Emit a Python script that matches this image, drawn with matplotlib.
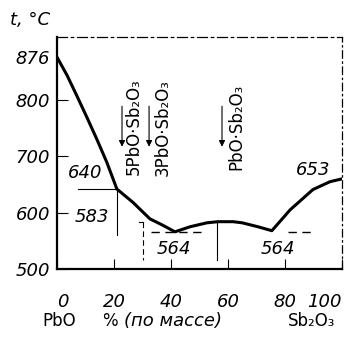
import matplotlib.pyplot as plt

# liquidus of the PbO - Sb2O3 system
liq_x = [0, 3.5, 7, 10.5, 14, 17.5, 21, 26.7, 32.6, 37, 41.4,
         46.7, 52.6, 56.5, 61.8, 65, 70.5, 75.4, 81.8, 89.8, 95.8, 100]
liq_t = [876, 844, 807, 769, 730, 689, 642, 618, 589, 578, 566,
         575, 582, 584, 584, 582, 575, 568, 605, 641, 655, 660]

y_ticks = [500, 600, 700, 800, 876]
x_ticks = [0, 20, 40, 60, 80, 100]

compounds = ['5PbO·Sb₂O₃', '3PbO·Sb₂O₃', 'PbO·Sb₂O₃']
comp_x = [22.8, 32.3, 57.9]
comp_lab_x = [26.9, 37.2, 63.0]

t_labels = ['640', '583', '564', '564', '653']
t_lab_x = [9.8, 12.2, 41, 77.5, 90]
t_lab_t = [671, 593, 536, 536, 675]

fnt = 'DejaVu Sans'

fig = plt.figure(figsize=(3.5, 3.39), dpi=100)
ax = fig.add_axes([0.163, 0.2065, 0.814, 0.6845])

ax.plot(liq_x, liq_t, color='black', lw=2.2, solid_joinstyle='round')

# solid thin lines
ax.plot([7.4, 21], [642, 642], color='black', lw=0.8)
ax.plot([21, 21], [642, 561], color='black', lw=0.8)
ax.plot([56, 56], [582, 516], color='black', lw=0.8)
ax.plot([28.8, 30], [584, 584], color='black', lw=0.8)
# dashed lines
ax.plot([30, 30], [584, 516], color='black', lw=0.8, ls=(0, (5, 3)))
ax.plot([33, 51], [566, 566], color='black', lw=1.0, ls=(0, (6, 4)))
ax.plot([81, 89.5], [566, 566], color='black', lw=1.0, ls=(0, (6, 4)))

# compound arrows and labels
for i in range(len(compounds)):
    ax.annotate('', xy=(comp_x[i], 717), xytext=(comp_x[i], 789),
                arrowprops=dict(arrowstyle='-|>', lw=0.8, color='black',
                                mutation_scale=9, shrinkA=0, shrinkB=0))
    ax.text(comp_lab_x[i], 752, compounds[i], rotation=90, ha='center',
            va='center', family=fnt, fontsize=12)

# temperature labels
for i in range(len(t_labels)):
    ax.text(t_lab_x[i], t_lab_t[i], t_labels[i], ha='center', va='center',
            family=fnt, style='italic', fontsize=13)

ax.set_xlim(0, 100)
ax.set_ylim(500, 912)
ax.set_xticks(x_ticks)
ax.set_xticklabels([str(v) for v in x_ticks])
ax.set_yticks(y_ticks)
ax.set_yticklabels([str(v) for v in y_ticks])
for lab in ax.get_xticklabels() + ax.get_yticklabels():
    lab.set_family(fnt)
    lab.set_style('italic')
    lab.set_fontsize(13)
ax.get_xticklabels()[0].set_ha('left')
ax.get_xticklabels()[-1].set_ha('right')
ax.tick_params(axis='x', direction='in', length=7, width=0.8, pad=17)
ax.tick_params(axis='y', direction='in', length=8, width=0.8, pad=5)
ax.yaxis.get_major_ticks()[4].tick1line.set_visible(False)

ax.spines['left'].set_linewidth(1.6)
ax.spines['bottom'].set_linewidth(1.6)
ax.spines['top'].set_linewidth(0.9)
ax.spines['top'].set_linestyle((0, (8, 3, 2, 3)))
ax.spines['right'].set_linewidth(0.9)
ax.spines['right'].set_linestyle((0, (6, 3, 1, 3)))

fig.text(10 / 350, 1 - 20 / 339, 't, °C', family=fnt, style='italic',
         fontsize=13, va='center')
fig.text(42 / 350, 1 - 321 / 339, 'PbO', family=fnt, fontsize=12, va='center')
fig.text(102 / 350, 1 - 321 / 339, '%', family=fnt, fontsize=12, va='center')
fig.text(124 / 350, 1 - 321 / 339, '(по массе)', family=fnt, style='italic',
         fontsize=13, va='center')
fig.text(288 / 350, 1 - 321 / 339, 'Sb₂O₃', family=fnt, fontsize=12,
         va='center')

fig.savefig('out.png', dpi=100)
